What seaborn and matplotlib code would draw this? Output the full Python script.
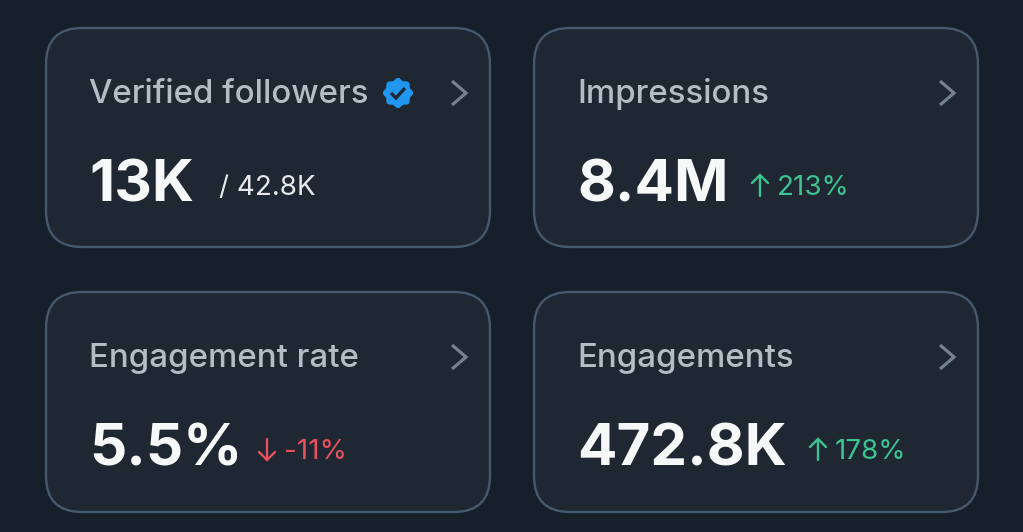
import numpy as np
import matplotlib
matplotlib.use("Agg")
import matplotlib.pyplot as plt
from matplotlib.patches import FancyBboxPatch, Polygon
import seaborn as sns


# 1 DATA

titles = ["Verified followers", "Impressions", "Engagement rate", "Engagements"]
values = ["13K", "8.4M", "5.5%", "472.8K"]
notes = ["/ 42.8K", "213%", "-11%", "178%"]
trends = [None, "up", "down", "up"]


# 2 STYLE

BG = "#15202b"
CARD = "#1f2732"
EDGE = "#46586c"
TITLE = "#b4bcc6"
WHITE = "#f7f8f8"
GREEN = "#3cc492"
RED = "#e8505e"
CHEVRON = "#74818f"
BLUE = "#2196f0"

sns.set_theme(style="white")
plt.rcParams["font.family"] = ["Inter", "DejaVu Sans"]

W, H = 1023, 532
fig = plt.figure(figsize=(W / 100, H / 100), dpi=100, facecolor=BG)
ax = fig.add_axes([0, 0, 1, 1], facecolor=BG)
ax.set_xlim(0, W)
ax.set_ylim(H, 0)
ax.axis("off")


# 3 LAYOUT (pixel positions of each card)

card_x = [46, 534, 46, 534]
card_y = [28, 28, 292, 292]
card_w = 444
card_h = [219, 219, 220, 220]
note_x = [219, 777, 284, 835]
arrow_x = [None, 760, 267, 818]


# 4 DRAW CARDS

for i in range(4):
    x0, y0 = card_x[i], card_y[i]
    r = 36
    ax.add_patch(FancyBboxPatch(
        (x0 + r, y0 + r), card_w - 2 * r, card_h[i] - 2 * r,
        boxstyle=f"round,pad={r},rounding_size={r}",
        facecolor=CARD, edgecolor=EDGE, linewidth=1.7
    ))

    ax.text(x0 + 43, y0 + 75, titles[i], color=TITLE, fontsize=23.8,
            family="Inter", weight="medium", va="baseline", ha="left")

    ax.text(x0 + 43, y0 + 173, values[i], color=WHITE, fontsize=42,
            family="Inter", weight="bold", va="baseline", ha="left")

    # chevron
    cx, cy = x0 + 406, y0 + 65
    ax.plot([cx, cx + 14, cx], [cy - 12, cy, cy + 12], color=CHEVRON,
            linewidth=2.3, solid_joinstyle="miter", solid_capstyle="butt")

    # small note next to the value
    colour = {"up": GREEN, "down": RED, None: "#e6e9ec"}[trends[i]]
    ax.text(note_x[i], y0 + 167, notes[i], color=colour, fontsize=20,
            family="Inter", va="baseline", ha="left")

    # trend arrow
    if trends[i]:
        ax_x = arrow_x[i]
        top, bot = y0 + 147, y0 + 168
        tip = top if trends[i] == "up" else bot
        d = 8 if trends[i] == "up" else -8
        ax.plot([ax_x, ax_x], [top, bot], color=colour, linewidth=1.7)
        ax.plot([ax_x - 8, ax_x, ax_x + 8], [tip + d, tip, tip + d],
                color=colour, linewidth=1.7, solid_joinstyle="miter")


# 5 VERIFIED BADGE

t = np.linspace(0, 2 * np.pi, 240)
rad = 14 + 1.1 * np.cos(8 * t)
ax.add_patch(Polygon(np.column_stack([398 + rad * np.cos(t), 93 + rad * np.sin(t)]),
                     closed=True, facecolor=BLUE, edgecolor="none"))
ax.plot([391, 396, 405], [93, 98, 88], color=CARD, linewidth=2.4,
        solid_joinstyle="miter", solid_capstyle="butt")


fig.savefig("out.png", dpi=100, facecolor=BG)
